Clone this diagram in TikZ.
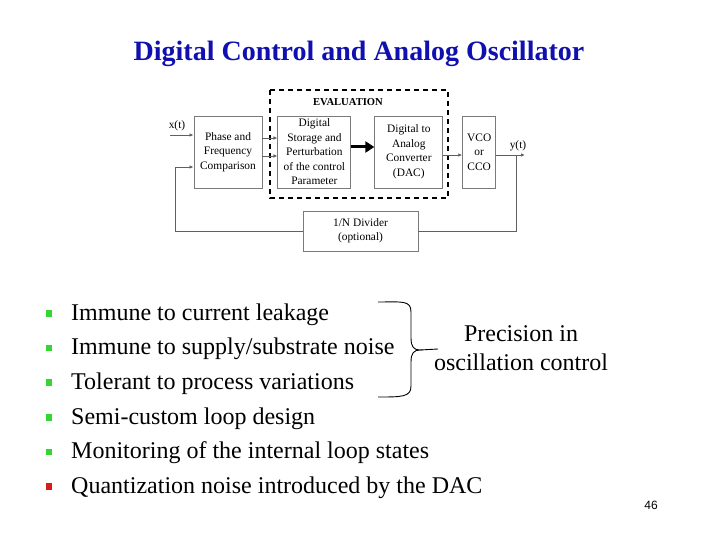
\documentclass[tikz,border=0pt]{standalone}
\usepackage{fontspec}
\setmainfont{Liberation Serif}
\newfontfamily\pagefont{Liberation Sans}
\usetikzlibrary{arrows.meta,positioning,calc}
\definecolor{titleblue}{HTML}{1010B0}
\definecolor{wiregray}{HTML}{606060}
\definecolor{boxgray}{HTML}{7A7A7A}
\definecolor{bulletgreen}{HTML}{33D633}
\definecolor{bulletred}{HTML}{D91A1A}

\begin{document}
\begin{tikzpicture}[
    x=1pt, y=-1pt,
    block/.style={draw=boxgray, line width=0.9pt, align=center, inner sep=1pt,
      font=\fontsize{11.4}{14.5}\selectfont, minimum height=72pt},
    wire/.style={draw=wiregray, line width=0.9pt},
    arrow/.style={wire, -{Latex[length=4pt,width=3.5pt]}},
    bigarrow/.style={draw=black, line width=3pt, -{Triangle[length=9pt,width=11pt]}},
    item/.style={anchor=west, inner sep=0pt, font=\fontsize{24}{28}\selectfont},
    bullet/.style={minimum size=6.5pt, inner sep=0pt}
  ]
    \useasboundingbox[fill=white] (0,0) rectangle (720,540);

    \node[font=\fontsize{28}{32}\selectfont\bfseries, text=titleblue] (title) at (359,54) {Digital Control and Analog Oscillator};

    % loop blocks
    \node[block, minimum width=68pt] (phase) at (228,152) {Phase and\\Frequency\\Comparison};
    \node[block, minimum width=73pt, right=15pt of phase] (store) {Digital\\Storage and\\Perturbation\\of the control\\Parameter};
    \node[block, minimum width=68pt, right=23pt of store] (dac) {Digital to\\Analog\\Converter\\(DAC)};
    \node[block, minimum width=33pt, right=19pt of dac] (vco) {VCO\\or\\CCO};
    \node[block, minimum width=115pt, minimum height=40pt] (divider) at (360.5,231) {1/N Divider\\(optional)};
    \draw[line width=1.6pt, dash pattern=on 5pt off 4pt] (270,90) rectangle (448,198);
    \node[font=\fontsize{10.6}{12}\selectfont\bfseries] (evallabel) at (348,102) {EVALUATION};

    \coordinate (xin) at (170,135);
    \coordinate (fb) at (175,167);
    \coordinate (yout) at (525,155);
    \coordinate (tap) at (516,155);
    \node[font=\fontsize{11.4}{12}\selectfont, inner sep=0pt] (xlabel) at (177,126) {x(t)};
    \node[font=\fontsize{11.4}{12}\selectfont, inner sep=0pt] (ylabel) at (518,146) {y(t)};

    \draw[arrow] (xin) -- (xin -| phase.west);
    \draw[arrow] (divider.west) -| (fb) -- (fb -| phase.west);
    \draw[arrow] ([yshift=14pt]phase.east) -- ([yshift=14pt]store.west);
    \draw[arrow] ([yshift=-4pt]phase.east) -- ([yshift=-4pt]store.west);
    \draw[bigarrow] ([yshift=5pt]store.east) -- ([yshift=5pt]dac.west);
    \draw[arrow] ([yshift=-3pt]dac.east) -- ([yshift=-3pt]vco.west);
    \draw[arrow] ([yshift=-3pt]vco.east) -- (yout);
    \draw[wire] (tap) |- (divider.east);

    % bullet list
    \foreach \txt [count=\i] in {Immune to current leakage,
        Immune to supply/substrate noise,
        Tolerant to process variations,
        Semi-custom loop design,
        Monitoring of the internal loop states,
        Quantization noise introduced by the DAC}{
      \pgfmathsetmacro{\rowy}{314.5+34.6*(\i-1)}
      \ifnum\i<6
        \node[bullet, fill=bulletgreen] (b\i) at (49,\rowy-1) {};
      \else
        \node[bullet, fill=bulletred] (b\i) at (49,\rowy-1) {};
      \fi
      \node[item] (t\i) at (71,\rowy) {\txt};
    }

    % brace
    \draw[line width=0.9pt] (378,302) .. controls (402,302) and (411,300) .. (411,312)
      -- (411,338) .. controls (411,347) and (414,350) .. (420,350)
      .. controls (414,350) and (411,353) .. (411,362) -- (411,386)
      .. controls (411,397) and (402,397) .. (378,397);
    \draw[line width=0.9pt] (420,350) -- (438,349);
    \node[align=center, font=\fontsize{24}{29}\selectfont] (precision) at (521,348) {Precision in\\oscillation control};

    \node[font=\pagefont\fontsize{12}{14}\selectfont] (pagenum) at (651,505) {46};
  \end{tikzpicture}
\end{document}
